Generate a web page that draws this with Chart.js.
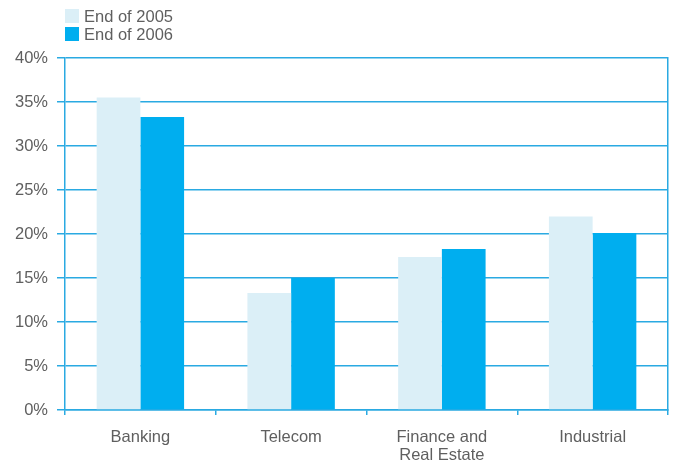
<!DOCTYPE html>
<html>
<head>
<meta charset="utf-8">
<script src="https://cdn.jsdelivr.net/npm/chart.js@4"></script>
<style>
  html, body { margin: 0; padding: 0; background: #fff; }
  #wrap { position: relative; width: 674px; height: 462px; }
  #leyenda { position: absolute; left: 65px; top: 7px; font: 16.5px "Liberation Sans", Arial, sans-serif; color: #5f5f5f; }
  #leyenda div { display: flex; align-items: center; height: 18px; }
  #leyenda span.caja { display: inline-block; width: 14px; height: 14px; margin-right: 5px; }
</style>
</head>
<body>
<div id="wrap">
  <canvas id="sectoresChart" width="674" height="462"></canvas>
  <div id="leyenda"></div>
</div>
<script>
// Datos del gráfico
const sectores = ['Banking', 'Telecom', ['Finance and', 'Real Estate'], 'Industrial'];
const fin2005 = [35.5, 13.3, 17.4, 22.0];
const fin2006 = [33.3, 15.0, 18.3, 20.1];
const series = ['End of 2005', 'End of 2006'];
const colores = ['#dbeff7', '#00aeef'];

const lineaColor = '#2aaae2';
const textoColor = '#5f5f5f';
Chart.defaults.font.family = '"Liberation Sans", Arial, sans-serif';
Chart.defaults.font.size = 16.5;
Chart.defaults.color = textoColor;

const ctx = document.getElementById('sectoresChart').getContext('2d');
const sectoresChart = new Chart(ctx, {
    type: 'bar',
    data: {
        labels: sectores,
        datasets: [
            { label: series[0], data: fin2005, backgroundColor: colores[0] },
            { label: series[1], data: fin2006, backgroundColor: colores[1] }
        ]
    },
    options: {
        responsive: false,
        animation: false,
        layout: { padding: { top: 58, left: 0, right: 0, bottom: 0 } },
        categoryPercentage: 0.58,
        barPercentage: 1,
        plugins: {
            legend: { display: false },
            tooltip: { enabled: false }
        },
        scales: {
            x: {
                grid: {
                    offset: true,
                    drawOnChartArea: false,
                    color: lineaColor,
                    lineWidth: 1.5,
                    tickLength: 5
                },
                border: { color: lineaColor, width: 1.5 },
                ticks: { padding: 13, color: textoColor, font: { lineHeight: 1.1 } },
                afterFit: s => { s.height = 52; }
            },
            y: {
                min: 0,
                max: 40,
                grid: { color: lineaColor, lineWidth: 1.5, tickLength: 8 },
                border: { color: lineaColor, width: 1.5 },
                ticks: {
                    stepSize: 5,
                    padding: 9,
                    color: textoColor,
                    callback: v => v + '%'
                },
                afterFit: s => { s.width = 65; }
            },
            borde: {
                position: 'right',
                min: 0,
                max: 40,
                grid: { drawOnChartArea: false, drawTicks: false },
                border: { color: lineaColor, width: 1.5 },
                ticks: { display: false },
                afterFit: s => { s.width = 6; }
            }
        }
    }
});

// Leyenda en HTML, en columna
const leyenda = document.getElementById('leyenda');
sectoresChart.data.datasets.forEach(ds => {
    leyenda.innerHTML += `<div><span class="caja" style="background:${ds.backgroundColor}"></span>${ds.label}</div>`;
});
</script>
</body>
</html>
